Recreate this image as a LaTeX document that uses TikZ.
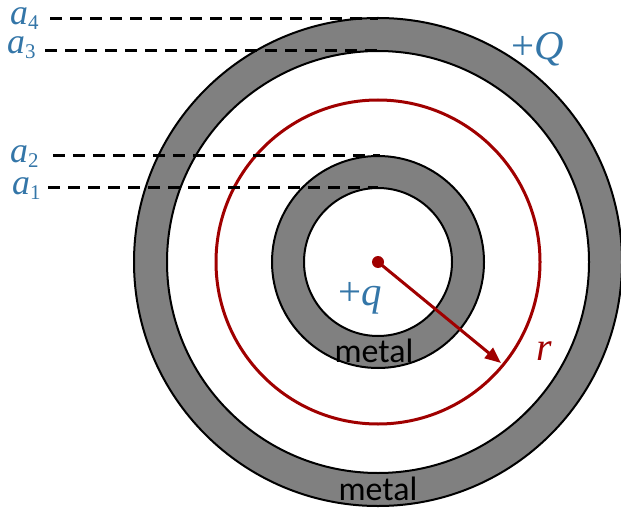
\documentclass[tikz,border=0pt]{standalone}
\usepackage{fontspec}
\setmainfont{Liberation Serif}
\newfontfamily\labelsans{Carlito}
\usetikzlibrary{arrows.meta}
\definecolor{lblue}{RGB}{52,118,168}
\definecolor{dred}{RGB}{160,0,0}
\definecolor{metalgray}{RGB}{128,128,128}
\newcommand{\alab}[1]{\textit{a}\raisebox{-5bp}{\fontsize{21}{21}\selectfont #1}}
\begin{document}
\begin{tikzpicture}[x=1bp,y=-1bp,
  shell/.style={draw=black,line width=2bp,fill=metalgray,even odd rule},
  guide/.style={draw=black,line width=3bp,dash pattern=on 12bp off 8bp},
  alabel/.style={text=lblue,font=\fontsize{36}{36}\selectfont,inner sep=0pt,anchor=base west,text height=17bp,text depth=6bp},
  metallabel/.style={text=black,font=\labelsans\fontsize{34}{34}\selectfont,inner sep=0pt},
  redline/.style={draw=dred,line width=3bp}]
\useasboundingbox (0,0) rectangle (621,508);
\coordinate (c) at (378,262);
% outer shell
\path[shell] (c) circle[radius=244] (c) circle[radius=211];
% inner shell
\path[shell] (c) circle[radius=106] (c) circle[radius=74];
% gaussian sphere
\draw[redline] (c) circle[radius=162];
% dashed guides
\node[alabel] (a4) at (10,25) {\alab{4}};
\node[alabel] (a3) at (7,54) {\alab{3}};
\node[alabel] (a2) at (10,163) {\alab{2}};
\node[alabel] (a1) at (12,195) {\alab{1}};
\coordinate (e4) at (378,19);
\coordinate (e3) at (378,51);
\coordinate (e2) at (380,156);
\coordinate (e1) at (378,188);
\draw[guide] (50,19) -- (e4);
\draw[guide] (45,51) -- (e3);
\draw[guide] (53,156) -- (e2);
\draw[guide] (48,188) -- (e1);
% charge and radius
\fill[dred] (c) circle[radius=6];
\coordinate (rt) at (501,363);
\draw[redline,-{Triangle[length=16bp,width=13bp]}] (c) -- (rt);
\node[text=dred,font=\fontsize{40}{40}\selectfont\itshape,inner sep=0pt,anchor=base] (r) at (544,360) {r};
\node[text=lblue,font=\fontsize{41}{41}\selectfont,inner sep=0pt,anchor=base] (q) at (360,305) {+\textit{q}};
\node[text=lblue,font=\fontsize{41}{41}\selectfont,inner sep=0pt,anchor=base] (Q) at (538,60) {+\textit{Q}};
\node[metallabel,anchor=base] (m1) at (374,362) {metal};
\node[metallabel,anchor=base] (m2) at (378,500) {metal};
\end{tikzpicture}
\end{document}
